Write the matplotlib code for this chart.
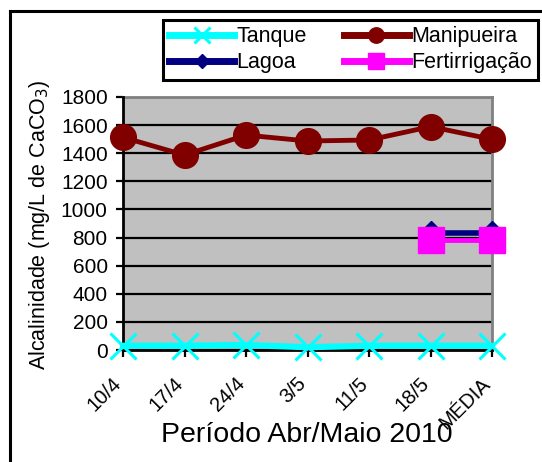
import matplotlib
matplotlib.use("Agg")
import matplotlib.pyplot as plt
from matplotlib.lines import Line2D
from matplotlib.transforms import ScaledTranslation

plt.rcParams['font.family'] = ['Liberation Sans', 'DejaVu Sans']

categories = ["10/4", "17/4", "24/4", "3/5", "11/5", "18/5", "MÉDIA"]
tanque = [30, 30, 35, 20, 30, 30, 30]
manipueira = [1513, 1387, 1529, 1487, 1494, 1589, 1499]
lagoa_x = ["18/5", "MÉDIA"]
lagoa = [830, 830]
fert_x = ["18/5", "MÉDIA"]
fert = [785, 785]
yticks = [0, 200, 400, 600, 800, 1000, 1200, 1400, 1600, 1800]

W, H = 542, 462
fig = plt.figure(figsize=(W / 100, H / 100), dpi=100)
ax = fig.add_axes([123 / W, 1 - 350 / H, (492 - 123) / W, (350 - 97) / H])
ax.set_facecolor('#C0C0C0')

xpos = {c: i for i, c in enumerate(categories)}
xi = list(range(len(categories)))

l_tanque, = ax.plot(xi, tanque, color='#00FFFF', lw=4.5, marker='x', ms=19, mew=2.2,
                    clip_on=False, zorder=6, label='Tanque')
l_lagoa, = ax.plot([xpos[c] for c in lagoa_x], lagoa, color='#000080', lw=4, marker='D',
                   ms=12, clip_on=False, zorder=4, label='Lagoa')
l_man, = ax.plot(xi, manipueira, color='#800000', lw=3.5, marker='o', ms=18.5,
                 clip_on=False, zorder=5, label='Manipueira')
l_fert, = ax.plot([xpos[c] for c in fert_x], fert, color='#FF00FF', lw=3.5, marker='s',
                  ms=19, clip_on=False, zorder=5, label='Fertirrigação')

ax.set_xlim(0, 6)
ax.set_ylim(0, 1800)
ax.set_yticks(yticks)
ax.set_yticklabels([str(v) for v in yticks], fontsize=15)
ax.yaxis.grid(True, color='black', lw=1.6)
ax.set_axisbelow(True)
ax.set_xticks(xi)
ax.set_xticklabels(categories, fontsize=14.5, rotation=45, ha='right', va='top',
                   rotation_mode='anchor')
ax.tick_params(axis='both', direction='out', length=5, width=1.6, color='black')
ax.tick_params(axis='x', pad=8)
ax.tick_params(axis='y', pad=6)
off = ScaledTranslation(-11 / 100, -6 / 100, fig.dpi_scale_trans)
for lab in ax.get_xticklabels():
    lab.set_transform(lab.get_transform() + off)

for s in ['left', 'bottom']:
    ax.spines[s].set_color('black')
    ax.spines[s].set_linewidth(2)
for s in ['top', 'right']:
    ax.spines[s].set_color('#808080')
    ax.spines[s].set_linewidth(2)
ax.spines['left'].set_zorder(3)

fig.text(40 / W, 1 - 225 / H, 'Alcalinidade (mg/L de CaCO$_3$)', rotation=90,
         ha='center', va='center', fontsize=15.5)
fig.text(307 / W, 1 - 435 / H, 'Período Abr/Maio 2010', ha='center', va='center',
         fontsize=20.5)

leg = fig.legend(handles=[l_tanque, l_lagoa, l_man, l_fert], ncol=2,
                 loc='upper left', bbox_to_anchor=(163 / W, 1 - 20 / H, (538 - 163) / W, 0),
                 mode='expand', fontsize=15.5, frameon=True, fancybox=False,
                 edgecolor='black', framealpha=1, borderpad=0.3, labelspacing=0.22,
                 handlelength=3.0, handletextpad=0.1, columnspacing=0.8,
                 markerscale=0.6, borderaxespad=0)
leg.get_frame().set_linewidth(2.2)
for ln in leg.get_lines():
    ln.set_linewidth(5)

# outer chart frame (partially visible)
fig.add_artist(Line2D([10 / W, 10 / W], [0, 1 - 11 / H], transform=fig.transFigure,
                      color='black', lw=2.2))
fig.add_artist(Line2D([10 / W, 1], [1 - 11 / H, 1 - 11 / H], transform=fig.transFigure,
                      color='black', lw=2.2))

fig.savefig('out.png', dpi=100)
